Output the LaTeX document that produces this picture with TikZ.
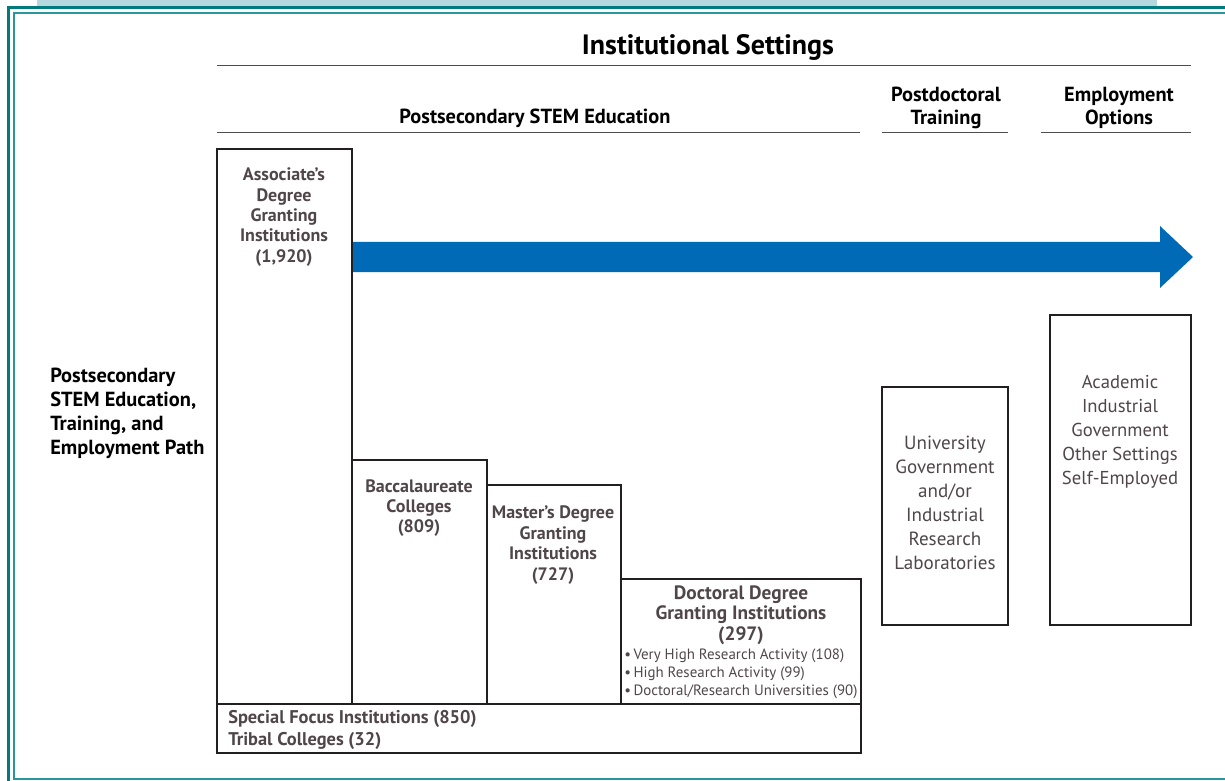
\documentclass[tikz,border=0pt]{standalone}
\usepackage{fontspec}
\setmainfont{PT Sans}
\definecolor{teal}{RGB}{0,122,124}
\definecolor{tealthin}{RGB}{40,150,155}
\definecolor{barblue}{RGB}{181,216,222}
\definecolor{arrowblue}{RGB}{0,106,182}
\definecolor{boxline}{RGB}{35,31,32}
\definecolor{boxtext}{RGB}{80,70,73}

\begin{document}
\begin{tikzpicture}[x=0.75pt, y=-0.75pt,
    frame/.style={line width=1.5pt, draw=boxline},
    rule/.style={line width=0.6pt, draw=boxline!80},
    head/.style={font=\bfseries\fontsize{15.3}{17.5}\selectfont, align=center, inner sep=0pt},
    label/.style={font=\bfseries\fontsize{13.5}{15.3}\selectfont, text=boxtext, align=center, inner sep=0pt},
    plain/.style={font=\fontsize{14}{18}\selectfont, text=boxtext, align=center, inner sep=0pt}]
  \useasboundingbox (0,0) rectangle (1225,781);
  % page frame
  \fill[barblue] (37,0) rectangle (1157,6);
  \fill[teal] (7,6) rectangle (1225,9);
  \fill[teal] (7,6) rectangle (10,781);
  \draw[tealthin, line width=1.2pt] (1225,13) -- (14,13) -- (14,779) -- (1225,779);
  % headings
  \node[head, font=\bfseries\fontsize{21}{22}\selectfont] (settings) at (708,47) {Institutional Settings};
  \draw[rule] (217,65) -- (1191,65);
  \node[head] (stem) at (535,118) {Postsecondary STEM Education};
  \node[head] (postdoc) at (946,108) {Postdoctoral\\Training};
  \node[head] (employ) at (1119,108) {Employment\\Options};
  \draw[rule] (217,132) -- (860,132);
  \draw[rule] (882,132) -- (1008,132);
  \draw[rule] (1041,132) -- (1191,132);
  \node[head, font=\bfseries\fontsize{15.3}{18}\selectfont, align=left, anchor=west] (path) at (50,413)
    {Postsecondary\\STEM Education,\\Training, and\\Employment Path};
  % arrow
  \fill[arrowblue] (352,242) -- (1160,242) -- (1160,226) -- (1193,257)
    -- (1160,288) -- (1160,272) -- (352,272) -- cycle;
  % institution boxes
  \draw[frame] (217,149) rectangle (352,704);
  \draw[frame] (352,460) rectangle (487,704);
  \draw[frame] (487,485) rectangle (621,704);
  \draw[frame] (621,579) rectangle (861,704);
  \draw[frame] (217,704) rectangle (861,753);
  \draw[frame] (882,387) rectangle (1008,625);
  \draw[frame] (1050,315) rectangle (1191,625);
  \node[label] (assoc) at (284,217) {Associate's\\Degree\\Granting\\Institutions\\(1,920)};
  \node[label] (bacc) at (419,508) {Baccalaureate\\Colleges\\(809)};
  \node[label] (master) at (553,545) {Master's Degree\\Granting\\Institutions\\(727)};
  \node[label, font=\bfseries\fontsize{14.5}{15.3}\selectfont] (doct) at (741,615) {Doctoral Degree\\Granting Institutions\\(297)};
  \node[label, font=\fontsize{11.2}{13.5}\selectfont, align=left, anchor=west] (research) at (624,674)
    {\textbullet\,Very High Research Activity (108)\\\textbullet\,High Research Activity (99)\\\textbullet\,Doctoral/Research Universities (90)};
  \node[label, align=left, anchor=west, font=\bfseries\fontsize{13.8}{16.5}\selectfont] (special) at (228,730)
    {Special Focus Institutions (850)\\Tribal Colleges (32)};
  \node[plain, font=\fontsize{14.3}{18}\selectfont] (labs) at (945,503) {University\\Government\\and/or\\Industrial\\Research\\Laboratories};
  \node[plain] (jobs) at (1120,432) {Academic\\Industrial\\Government\\Other Settings\\Self-Employed};
\end{tikzpicture}
\end{document}
